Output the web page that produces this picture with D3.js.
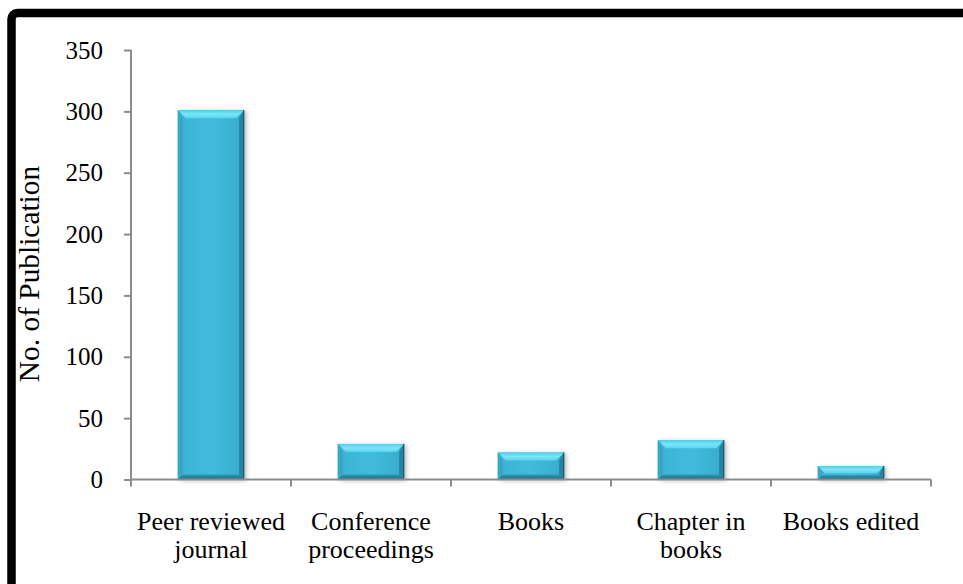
<!DOCTYPE html>
<html><head><meta charset="utf-8">
<script src="https://cdn.jsdelivr.net/npm/d3@7"></script>
<style>body{margin:0;background:#fff}svg{display:block}</style>
</head><body><svg id="c" width="963" height="584"></svg>
<script>
const categories = [["Peer reviewed","journal"],["Conference","proceedings"],["Books"],["Chapter in","books"],["Books edited"]];
const values = [301, 29, 22, 32, 11];
const yTicks = [0,50,100,150,200,250,300,350];
const yTitle = "No. of Publication";

const svg = d3.select("#c");
const m = {l:131, r:931, t:50, b:479.5};
const x = d3.scaleBand().domain(d3.range(values.length)).range([m.l, m.r]).paddingInner(0.585).paddingOuter(0.2925);
const y = d3.scaleLinear().domain([0,350]).range([m.b, m.t]);

// border
svg.append("rect").attr("x",11.5).attr("y",13).attr("width",1000).attr("height",1000)
  .attr("rx",6).attr("fill","none").attr("stroke","#000").attr("stroke-width",8.5);

const defs = svg.append("defs");
const gFace = defs.append("linearGradient").attr("id","face").attr("x1",0).attr("x2",1).attr("y1",0).attr("y2",0);
[[0,"#2e9dbd"],[0.08,"#3cb4d6"],[0.5,"#40bcdc"],[0.92,"#38aecf"],[1,"#237a90"]].forEach(s=>gFace.append("stop").attr("offset",s[0]).attr("stop-color",s[1]));
const gTop = defs.append("linearGradient").attr("id","top").attr("x1",0).attr("x2",0).attr("y1",0).attr("y2",1);
[[0,"#4fd0ea"],[0.5,"#7ae6f8"],[1,"#5cd3ec"]].forEach(s=>gTop.append("stop").attr("offset",s[0]).attr("stop-color",s[1]));
const gBot = defs.append("linearGradient").attr("id","bot").attr("x1",0).attr("x2",0).attr("y1",0).attr("y2",1);
[[0,"#2f9ab8"],[1,"#1e6a7e"]].forEach(s=>gBot.append("stop").attr("offset",s[0]).attr("stop-color",s[1]));
const flt = defs.append("filter").attr("id","sh").attr("x","-20%").attr("y","-20%").attr("width","150%").attr("height","150%");
flt.append("feDropShadow").attr("dx",2).attr("dy",1).attr("stdDeviation",2).attr("flood-color","#000").attr("flood-opacity",0.25);

// axes
const gy = svg.append("g").attr("transform",`translate(${m.l},0)`)
  .call(d3.axisLeft(y).tickValues(yTicks).tickSize(7).tickPadding(21).tickFormat(d3.format("d")));
gy.selectAll("path,line").attr("stroke","#8c8c8c").attr("stroke-width",2);
gy.selectAll("text").attr("font-family","Liberation Serif").attr("font-size",25).attr("fill","#000");
gy.select(".domain").attr("d",`M0,${m.t}V${m.b}`);
gy.selectAll(".tick line").attr("x1",-7).attr("x2",0);

const bars = svg.append("g");
values.forEach((v,i)=>{
  const x0 = x(i), w = x.bandwidth(), y0 = y(v), y1 = y(0), h = y1-y0;
  const b = Math.min(5, h/3);
  const g = bars.append("g").attr("filter","url(#sh)");
  g.append("rect").attr("x",x0).attr("y",y0).attr("width",w).attr("height",h).attr("fill","url(#face)");
  g.append("path").attr("d",`M${x0},${y0}H${x0+w}L${x0+w-b*1.6},${y0+b*1.6}H${x0+b*1.6}Z`).attr("fill","url(#top)");
  g.append("path").attr("d",`M${x0},${y1}H${x0+w}L${x0+w-b},${y1-b}H${x0+b}Z`).attr("fill","url(#bot)");
  g.append("path").attr("d",`M${x0+w},${y0}V${y1}L${x0+w-b},${y1-b}V${y0+b*1.6}Z`).attr("fill","#2684a0");
  g.append("path").attr("d",`M${x0},${y0}V${y1}L${x0+b},${y1-b}V${y0+b*1.6}Z`).attr("fill","#35a8c8");
  g.append("rect").attr("x",x0+w-1.2).attr("y",y0).attr("width",1.2).attr("height",h).attr("fill","#1b5f70");
});

const xb = svg.append("g");
xb.append("line").attr("x1",m.l).attr("x2",m.r).attr("y1",m.b).attr("y2",m.b).attr("stroke","#8c8c8c").attr("stroke-width",2);
const step = (m.r-m.l)/values.length;
d3.range(values.length+1).forEach(i=>{
  xb.append("line").attr("x1",m.l+i*step).attr("x2",m.l+i*step).attr("y1",m.b).attr("y2",m.b+7).attr("stroke","#8c8c8c").attr("stroke-width",2);
});
categories.forEach((lines,i)=>{
  const t = svg.append("text").attr("x",x(i)+x.bandwidth()/2).attr("y",530)
    .attr("text-anchor","middle").attr("font-family","Liberation Serif").attr("font-size",26).attr("fill","#000");
  lines.forEach((s,j)=>t.append("tspan").attr("x",x(i)+x.bandwidth()/2).attr("dy",j?27.5:0).text(s));
});

svg.append("text").attr("transform","translate(39,274) rotate(-90)").attr("text-anchor","middle")
  .attr("font-family","Liberation Serif").attr("font-size",29.4).attr("fill","#000").text(yTitle);
</script></body></html>
